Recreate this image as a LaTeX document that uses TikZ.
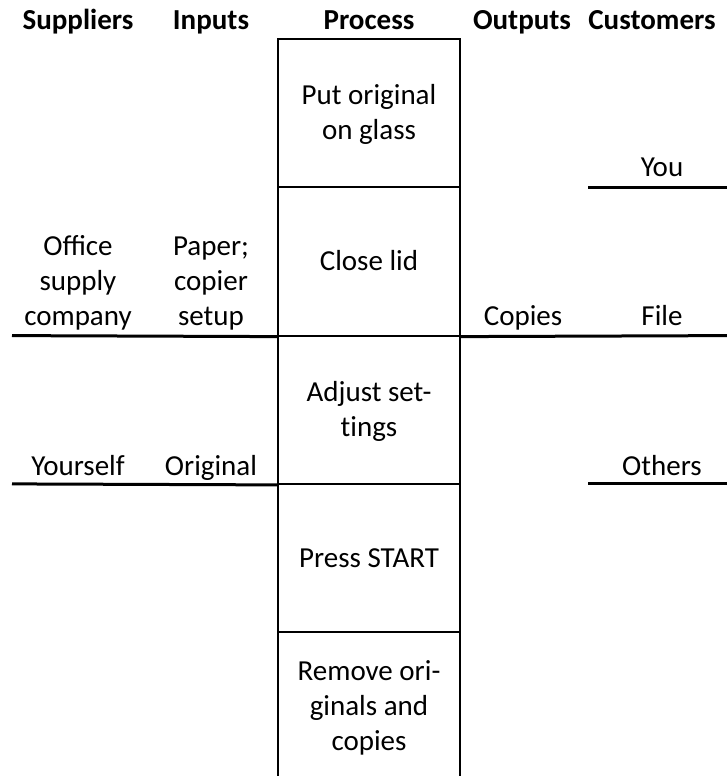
\documentclass[tikz,border=0pt]{standalone}
\usepackage{fontspec}
\setmainfont{Carlito}
\newcommand{\ms}{\rule[-8.6pt]{0pt}{35.4pt}}
\begin{document}
\begin{tikzpicture}[x=1pt,y=-1pt,
  txt/.style={inner sep=0pt, align=center, font=\fontsize{29}{35.4}\selectfont},
  hdr/.style={inner sep=0pt, align=center, font=\fontsize{29}{35.4}\selectfont\bfseries},
  stepbox/.style={draw, line width=2pt, minimum width=182pt, minimum height=148.3pt,
    inner sep=0pt, align=center, font=\fontsize{29}{35.4}\selectfont},
  sepline/.style={line width=3pt}]
\useasboundingbox (0,0) rectangle (727,776);

% headers
\node[hdr] (hS) at (78,20.9) {\ms Suppliers};
\node[hdr] (hI) at (211,20.9) {\ms Inputs};
\node[hdr] (hP) at (369,20.9) {\ms Process};
\node[hdr] (hO) at (522,20.9) {\ms Outputs};
\node[hdr] (hC) at (652,20.9) {\ms Customers};

% process steps
\node[stepbox] (p1) at (369,113.15) {\ms Put original\\\ms on glass};
\node[stepbox] (p2) at (369,261.45) {\ms Close lid};
\node[stepbox] (p3) at (369,409.75) {\ms Adjust set-\\\ms t\kern0pt ings};
\node[stepbox] (p4) at (369,558.05) {\ms Press START};
\node[stepbox] (p5) at (369,706.35) {\ms Remove ori-\\\ms ginals and\\\ms copies};

% suppliers / inputs
\node[txt] (s1) at (78,281.3) {\ms Office\\\ms supply\\\ms company};
\node[txt] (i1) at (211,281.3) {\ms Paper;\\\ms copier\\\ms setup};
\node[txt] (s2) at (78,465.9) {\ms Yourself};
\node[txt] (i2) at (211,465.9) {\ms Original};

% outputs / customers
\node[txt] (o1) at (523,315.9) {\ms Copies};
\node[txt] (c1) at (662,166.9) {\ms You};
\node[txt] (c2) at (662,315.9) {\ms File};
\node[txt] (c3) at (662,465.9) {\ms Others};

% separator lines
\coordinate (l1a) at (588,187.3);
\coordinate (l1b) at (727,187.3);
\coordinate (l2a) at (12,335.6);
\coordinate (l2c) at (727,335.6);
\coordinate (l3a) at (12,483.9);
\coordinate (l3c) at (588,483.9);
\coordinate (l3d) at (727,483.9);

\draw[sepline] (l1a) -- (l1b);
\draw[sepline] (l2a) -- (p2.south west);
\draw[sepline] (p2.south east) -- (l2c);
\draw[sepline] (l3a) -- (p3.south west);
\draw[sepline] (l3c) -- (l3d);
\end{tikzpicture}
\end{document}
